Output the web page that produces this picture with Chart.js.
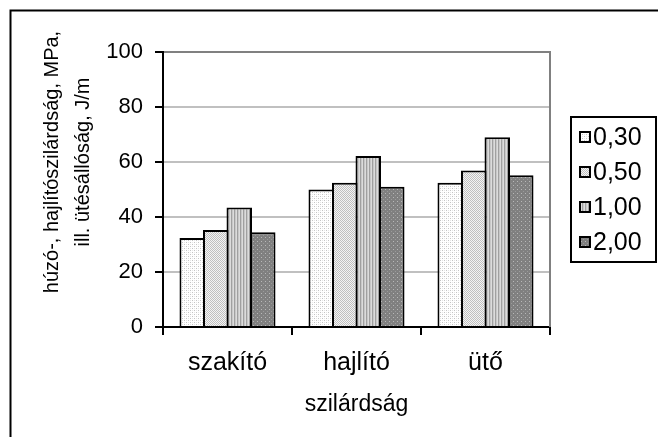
<!DOCTYPE html>
<html>
<head>
<meta charset="utf-8">
<script src="https://cdn.jsdelivr.net/npm/chart.js@4.4.0/dist/chart.umd.min.js"></script>
<style>
  html, body { margin: 0; padding: 0; background: #ffffff; }
  #wrap { position: relative; width: 658px; height: 437px; }
</style>
</head>
<body>
<div id="wrap"><canvas id="c" width="658" height="437"></canvas></div>
<script>
// Categories, series and axis texts
const categories = ['szakító', 'hajlító', 'ütő'];
const seriesLabels = ['0,30', '0,50', '1,00', '2,00'];
const s030 = [32.4, 50.0, 52.5];
const s050 = [35.3, 52.5, 56.9];
const s100 = [43.5, 62.2, 69.0];
const s200 = [34.5, 51.0, 55.2];
const yTicks = [0, 20, 40, 60, 80, 100];
const yTitleLines = ['húzó-, hajlítószilárdság, MPa,', 'ill. ütésállóság, J/m'];
const xTitle = 'szilárdság';

const FONT = "'Liberation Sans', Arial, Helvetica, sans-serif";
Chart.defaults.font.family = FONT;
Chart.defaults.color = '#000000';

// Small fill textures for the bars
function makePattern(size, bg, draw) {
  const c = document.createElement('canvas');
  c.width = size; c.height = size;
  const g = c.getContext('2d');
  g.fillStyle = bg; g.fillRect(0, 0, size, size);
  draw(g);
  return g.createPattern(c, 'repeat');
}
const patterns = [
  makePattern(4, '#ffffff', g => { g.fillStyle = '#c4c4c4'; g.fillRect(0, 0, 1, 1); g.fillRect(2, 2, 1, 1); g.fillStyle='#e6e6e6'; g.fillRect(2,0,1,1); g.fillRect(0,2,1,1); }),
  makePattern(2, '#f4f4f4', g => { g.fillStyle = '#c0c0c0'; g.fillRect(0, 0, 1, 1); g.fillRect(1, 1, 1, 1); }),
  makePattern(3, '#c8c8c8', g => { g.fillStyle = '#a0a0a0'; g.fillRect(0, 0, 1, 3); g.fillStyle = '#dcdcdc'; g.fillRect(2, 0, 1, 3); }),
  makePattern(4, '#808080', g => { g.fillStyle = '#b8b8b8'; g.fillRect(1, 1, 1, 1); g.fillStyle = '#9a9a9a'; g.fillRect(3, 3, 1, 1); })
];

const seriesValues = [s030, s050, s100, s200];
const datasets = seriesValues.map((vals, i) => ({
  label: seriesLabels[i],
  data: vals,
  backgroundColor: patterns[i],
  borderColor: '#000000',
  borderWidth: 2,
  borderSkipped: 'start',
  categoryPercentage: 0.729,
  barPercentage: 1.085
}));

// Outer frame, plot border, rotated y title and boxed legend
const decorations = {
  id: 'decorations',
  beforeDraw(chart) {
    const ctx = chart.ctx;
    ctx.save();
    ctx.fillStyle = '#ffffff';
    ctx.fillRect(0, 0, chart.width, chart.height);
    ctx.strokeStyle = '#000000';
    ctx.lineWidth = 2;
    ctx.strokeRect(10.5, 10.5, chart.width + 40, chart.height + 40);
    ctx.restore();
  },
  afterDraw(chart) {
    const ctx = chart.ctx;
    const a = chart.chartArea;
    ctx.save();
    // plot area right edge
    ctx.strokeStyle = '#808080';
    ctx.lineWidth = 2;
    ctx.beginPath();
    ctx.moveTo(a.right, a.top - 1);
    ctx.lineTo(a.right, a.bottom);
    ctx.stroke();

    // y axis title (two lines)
    ctx.fillStyle = '#000000';
    ctx.font = '20px ' + FONT;
    ctx.textAlign = 'center';
    ctx.textBaseline = 'alphabetic';
    const baseX = [58, 89];
    yTitleLines.forEach((t, i) => {
      ctx.save();
      ctx.translate(baseX[i], 162);
      ctx.rotate(-Math.PI / 2);
      ctx.fillText(t, 0, 0);
      ctx.restore();
    });

    // legend box
    const lx = 571, ly = 117, lw = 85, lh = 145;
    ctx.strokeStyle = '#000000';
    ctx.lineWidth = 2;
    ctx.strokeRect(lx, ly, lw, lh);
    ctx.font = '25px ' + FONT;
    ctx.textAlign = 'left';
    ctx.textBaseline = 'middle';
    chart.data.datasets.forEach((ds, i) => {
      const cy = 137 + i * 35;
      ctx.fillStyle = ds.backgroundColor;
      ctx.fillRect(580, cy - 5, 10, 10);
      ctx.strokeStyle = '#000000';
      ctx.lineWidth = 2;
      ctx.strokeRect(580, cy - 5, 10, 10);
      ctx.fillStyle = '#000000';
      ctx.fillText(ds.label, 593, cy + 1);
    });
    ctx.restore();
  }
};

new Chart(document.getElementById('c'), {
  type: 'bar',
  data: { labels: categories, datasets: datasets },
  options: {
    responsive: false,
    devicePixelRatio: 1,
    animation: false,
    layout: { padding: { left: 0, top: 52, right: 108, bottom: 0 } },
    plugins: {
      legend: { display: false },
      tooltip: { enabled: false },
      title: { display: false }
    },
    scales: {
      x: {
        afterFit(scale) { scale.height = 110; },
        grid: {
          display: true,
          offset: true,
          drawOnChartArea: false,
          drawTicks: true,
          tickLength: 8,
          color: '#000000',
          lineWidth: 2
        },
        border: { display: true, color: '#000000', width: 2 },
        ticks: { font: { size: 25 }, color: '#000000', padding: 13, maxRotation: 0 },
        title: { display: true, text: xTitle, font: { size: 23 }, color: '#000000', padding: { top: 0, bottom: 19 } }
      },
      y: {
        min: 0,
        max: 100,
        afterFit(scale) { scale.width = 163; },
        afterBuildTicks(scale) { scale.ticks = yTicks.map(v => ({ value: v })); },
        grid: {
          display: true,
          drawOnChartArea: true,
          drawTicks: true,
          tickLength: 8,
          lineWidth: 2,
          color: c => (c.tick && c.tick.value === 100 ? '#808080' : '#c0c0c0'),
          tickColor: '#000000',
          tickWidth: 2
        },
        border: { display: true, color: '#000000', width: 2 },
        ticks: { font: { size: 22 }, color: '#000000', padding: 12 }
      }
    }
  },
  plugins: [decorations]
});
</script>
</body>
</html>
